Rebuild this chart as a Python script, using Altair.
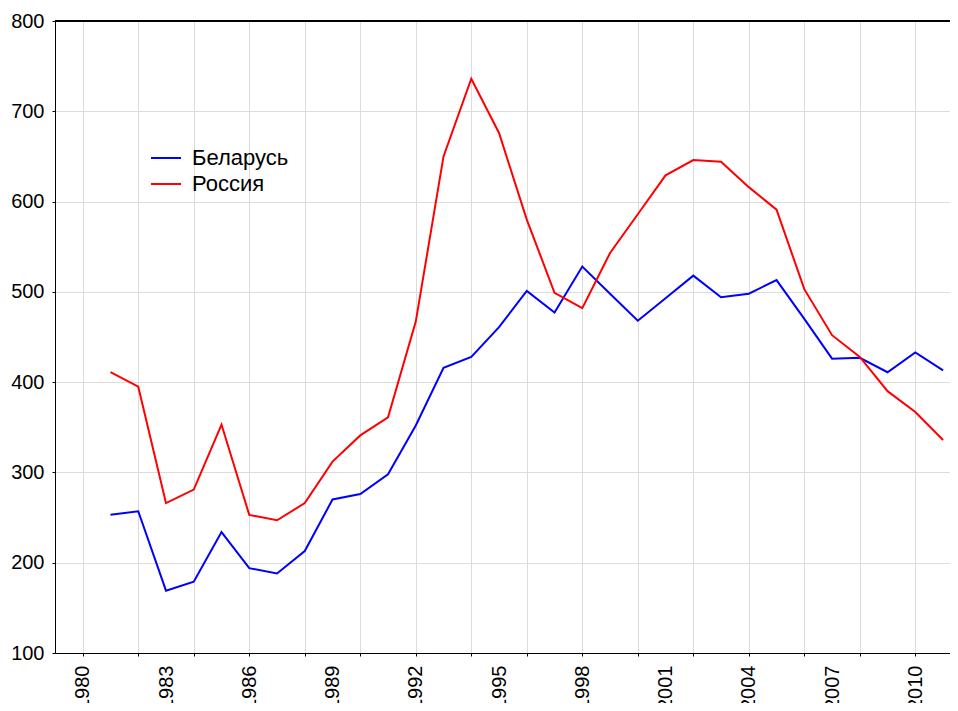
import altair as alt
import pandas as pd

years = list(range(1981, 2012))
belarus = [253, 257, 169, 179, 234, 194, 188, 213, 270, 276, 298, 352, 416, 428,
           461, 501, 477, 528, 498, 468, 493, 518, 494, 498, 513, 470, 426, 427,
           411, 433, 413]
russia = [411, 395, 266, 281, 353, 253, 247, 266, 312, 341, 361, 467, 650, 736,
          676, 580, 499, 482, 543, 586, 629, 646, 644, 616, 591, 503, 452, 428,
          390, 367, 336]
series = ["Беларусь", "Россия"]
colors = ["#0000ff", "#ff0000"]
grid_years = list(range(1980, 2012, 2))
label_years = list(range(1980, 2012, 3))
y_ticks = list(range(100, 900, 100))

df = pd.concat([
    pd.DataFrame({"year": years, "value": belarus, "country": series[0]}),
    pd.DataFrame({"year": years, "value": russia, "country": series[1]}),
])

FONT = "Liberation Sans"
xscale = alt.Scale(domain=[1979, 2011.25], nice=False, zero=False)
yscale = alt.Scale(domain=[100, 800], nice=False, zero=False)

yaxis = alt.Axis(values=y_ticks, title=None, labelFontSize=20, labelColor="black",
                 labelFont=FONT, tickSize=3, tickColor="black", labelPadding=8,
                 domainColor="black", gridColor="#dcdcdc", gridWidth=1, grid=True)

ax_grid = alt.Axis(values=grid_years, title=None, labels=False, tickSize=3,
                   tickColor="black", domainColor="black", gridColor="#dcdcdc",
                   grid=True, orient="bottom")
ax_labels = alt.Axis(values=label_years, title=None, labels=True, ticks=False,
                     tickSize=0, domain=False, grid=False, labelAngle=270,
                     labelFontSize=20, labelFont=FONT, labelColor="black",
                     labelPadding=12, format="d", orient="bottom",
                     labelOverlap=False)

lines = alt.Chart(df).mark_line(strokeWidth=2).encode(
    x=alt.X("year:Q", scale=xscale, axis=ax_grid),
    y=alt.Y("value:Q", scale=yscale, axis=yaxis),
    color=alt.Color("country:N", scale=alt.Scale(domain=series, range=colors),
                    legend=alt.Legend(orient="none", legendX=95, legendY=126,
                                      title=None, symbolType="stroke",
                                      symbolSize=900, symbolStrokeWidth=2,
                                      labelFontSize=22, labelFont=FONT,
                                      labelColor="black", labelOffset=10,
                                      rowPadding=4, clipHeight=22, padding=0)),
)

label_layer = alt.Chart(df).mark_line(opacity=0).encode(
    x=alt.X("year:Q", scale=xscale, axis=ax_labels),
    y=alt.Y("value:Q", scale=yscale, axis=yaxis),
    detail="country:N",
)

top = alt.Chart(df).mark_rule(color="black", strokeWidth=1).encode(
    y=alt.datum(800),
)

chart = alt.layer(lines, label_layer, top).resolve_axis(x="independent").properties(
    width=895, height=632,
    autosize=alt.AutoSizeParams(type="none"),
    padding={"left": 47, "top": 13, "right": 0, "bottom": 50},
).configure_view(stroke=None).configure(font=FONT)

chart.save("out.html", embed_options={"renderer": "svg", "actions": False})
